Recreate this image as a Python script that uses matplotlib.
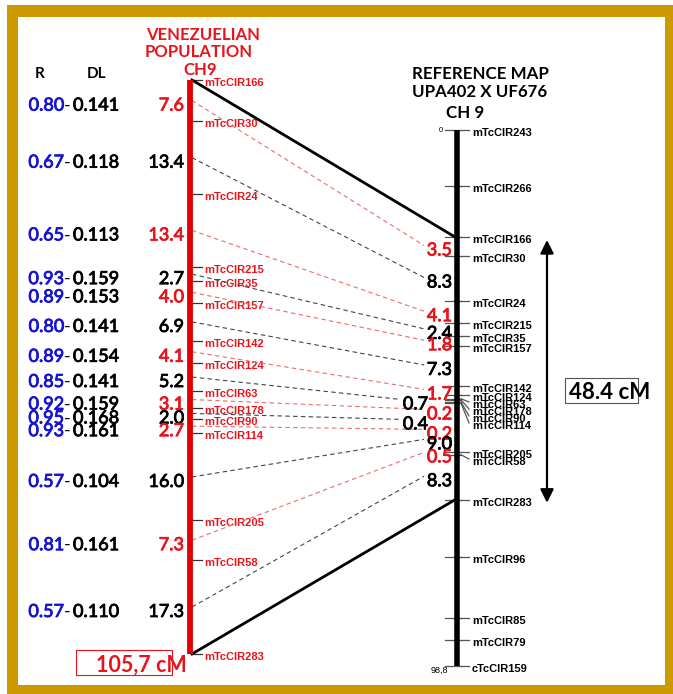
import numpy as np
import matplotlib.pyplot as plt
import matplotlib.patheffects as pe
from matplotlib.patches import Rectangle, FancyArrowPatch

# Venezuelian population, chromosome 9 (markers top to bottom, interval distances in cM)
pop_markers = ['mTcCIR166', 'mTcCIR30', 'mTcCIR24', 'mTcCIR215', 'mTcCIR35', 'mTcCIR157',
               'mTcCIR142', 'mTcCIR124', 'mTcCIR63', 'mTcCIR178', 'mTcCIR90', 'mTcCIR114',
               'mTcCIR205', 'mTcCIR58', 'mTcCIR283']
pop_dist = [7.6, 13.4, 13.4, 2.7, 4.0, 6.9, 4.1, 5.2, 3.1, 2.0, 2.7, 16.0, 7.3, 17.3]
r_vals = ['0.80', '0.67', '0.65', '0.93', '0.89', '0.80', '0.89', '0.85', '0.92', '0.95',
          '0.93', '0.57', '0.81', '0.57']
dl_vals = ['0.141', '0.118', '0.113', '0.159', '0.153', '0.141', '0.154', '0.141', '0.159',
           '0.168', '0.161', '0.104', '0.161', '0.110']
pop_total = '105,7 cM'

# reference map UPA402 x UF676, chromosome 9
ref_top_markers = ['mTcCIR243', 'mTcCIR266']
ref_top_pos = [0.0, 10.3]
ref_start = 19.7   # mTcCIR166
ref_dist = [3.5, 8.3, 4.1, 2.4, 1.8, 7.3, 1.7, 0.7, 0.2, 0.4, 0.2, 9.0, 0.5, 8.3]
ref_bot_markers = ['mTcCIR96', 'mTcCIR85', 'mTcCIR79', 'cTcCIR159']
ref_bot_pos = [78.6, 89.8, 94.0, 98.8]
ref_span = '48.4 cM'

RED = '#e8141c'
LRED = '#f06a6a'
BLUE = '#1414d2'
GOLD = '#cc9900'
NUM = 'Lato'
MARK = 'Liberation Sans'
NUMSIZE = 13

K = 5.43                  # pixels per cM
LX, LTOP = 190, 80        # population bar
RX, RTOP = 457, 130       # reference bar


def heavy(color):
    # thicken the regular Lato digits a little
    return [pe.withStroke(linewidth=0.6, foreground=color)]


pop_pos = np.concatenate([[0], np.cumsum(pop_dist)])
ly = LTOP + pop_pos * K
lmid = (ly[:-1] + ly[1:]) / 2

mid_pos = ref_start + np.concatenate([[0], np.cumsum(ref_dist)])
ref_markers = ref_top_markers + pop_markers + ref_bot_markers
ref_pos = np.concatenate([ref_top_pos, mid_pos, ref_bot_pos])
ry = RTOP + ref_pos * K
ry_shared = RTOP + mid_pos * K
rmid = (ry_shared[:-1] + ry_shared[1:]) / 2

fig = plt.figure(figsize=(6.73, 6.94), dpi=100)
ax = fig.add_axes([0, 0, 1, 1])
ax.set_xlim(0, 673)
ax.set_ylim(694, 0)
ax.axis('off')

# frame
ax.add_patch(Rectangle((7, 5), 666, 689, facecolor=GOLD, edgecolor='none'))
ax.add_patch(Rectangle((18, 17), 647, 668, facecolor='white', edgecolor='none'))

# headers
ax.text(203, 35, 'VENEZUELIAN', color=RED, family=NUM, weight='bold', fontsize=12,
        ha='center', va='center')
ax.text(199, 52, 'POPULATION', color=RED, family=NUM, weight='bold', fontsize=12,
        ha='center', va='center')
ax.text(200, 70, 'CH9', color=RED, family=NUM, weight='bold', fontsize=12,
        ha='center', va='center')
ax.text(480, 74, 'REFERENCE MAP', family=NUM, weight='bold', fontsize=12.2,
        ha='center', va='center')
ax.text(480, 92, 'UPA402 X UF676', family=NUM, weight='bold', fontsize=12.2,
        ha='center', va='center')
ax.text(465, 113, 'CH 9', family=NUM, weight='bold', fontsize=12.2,
        ha='center', va='center')
ax.text(40, 74, 'R', family=NUM, weight='bold', fontsize=11, ha='center', va='center')
ax.text(97, 74, 'DL', family=NUM, weight='bold', fontsize=11, ha='center', va='center')

# bars
ax.plot([LX, LX], [ly[0], ly[-1]], color='#e00000', lw=4.2, solid_capstyle='butt', zorder=5)
ax.plot([RX, RX], [ry[0], ry[-1]], color='black', lw=4.0, solid_capstyle='butt', zorder=5)

# population markers
for name, y in zip(pop_markers, ly):
    ax.plot([LX + 1, LX + 12], [y, y], color='#333333', lw=0.9, zorder=4)
    ax.text(LX + 14, y + 3, name, color=RED, family=MARK, weight='bold', fontsize=8,
            ha='left', va='center')

# reference markers, labels spread where they crowd
prev = -1e9
for name, y in zip(ref_markers, ry):
    yl = max(y + 3, prev + 7)
    prev = yl
    ax.plot([RX - 12, RX + 4], [y, y], color='#555555', lw=0.9, zorder=4)
    ax.plot([RX + 4, RX + 12], [y, yl - 3], color='#555555', lw=0.9, zorder=4)
    ax.text(RX + 15, yl, name, family=MARK, weight='bold', fontsize=8,
            ha='left', va='center')

ax.text(443, ry[0], '0', family=MARK, fontsize=5.5, ha='right', va='center')
ax.text(448, ry[-1] + 4, '98,8', family=MARK, fontsize=6.5, ha='right', va='center')

# interval labels, R and DL on the left
for i, (d, r, dl, ym) in enumerate(zip(pop_dist, r_vals, dl_vals, lmid)):
    c = RED if i % 2 == 0 else 'black'
    ax.text(184, ym + 5, f'{d:.1f}', color=c, family=NUM, fontsize=NUMSIZE,
            ha='right', va='center', path_effects=heavy(c))
    ax.text(64, ym + 5, r, color=BLUE, family=NUM, fontsize=NUMSIZE,
            ha='right', va='center', path_effects=heavy(BLUE))
    ax.text(64, ym + 5, '-', family=NUM, fontsize=NUMSIZE, ha='left', va='center')
    ax.text(73, ym + 5, dl, family=NUM, fontsize=NUMSIZE,
            ha='left', va='center', path_effects=heavy('black'))

# interval labels on the reference map, spread and connected with dashed lines
shift = [0] * len(ref_dist)
shift[7] = shift[9] = -24
prev = -1e9
for i, (d, ym) in enumerate(zip(ref_dist, rmid)):
    yl = max(ym + 4, prev + 10)
    prev = yl
    c = RED if i % 2 == 0 else 'black'
    lc = LRED if i % 2 == 0 else '#444444'
    ax.text(452 + shift[i], yl, f'{d:.1f}', color=c, family=NUM, fontsize=NUMSIZE,
            ha='right', va='center', zorder=6, path_effects=heavy(c))
    ax.plot([LX + 2, 424 + shift[i]], [lmid[i], yl - 5], color=lc, lw=0.8,
            ls=(0, (4, 3)), zorder=3)

# homologous ends of the common segment
ax.plot([LX + 2, RX - 2], [ly[0], ry_shared[0]], color='black', lw=2, zorder=4)
ax.plot([LX + 2, RX - 2], [ly[-1], ry_shared[-1]], color='black', lw=2, zorder=4)

# total length of the population map
ax.add_patch(Rectangle((76, 650), 96, 25, facecolor='none', edgecolor=RED, lw=0.8))
ax.text(96, 665, pop_total, color=RED, family=NUM, weight='bold', fontsize=15.5,
        ha='left', va='center')

# span of the common segment on the reference map
ax.add_patch(FancyArrowPatch((547, ry_shared[0] + 3), (547, ry_shared[-1] + 3),
                             arrowstyle='<|-|>,head_length=8,head_width=4',
                             color='black', lw=1.6, mutation_scale=1, shrinkA=0, shrinkB=0))
ax.add_patch(Rectangle((565, 378), 73, 25, facecolor='none', edgecolor='#555555', lw=0.8))
ax.text(569, 392, ref_span, family=NUM, weight='bold', fontsize=16,
        ha='left', va='center')

fig.savefig('out.png', dpi=100)
